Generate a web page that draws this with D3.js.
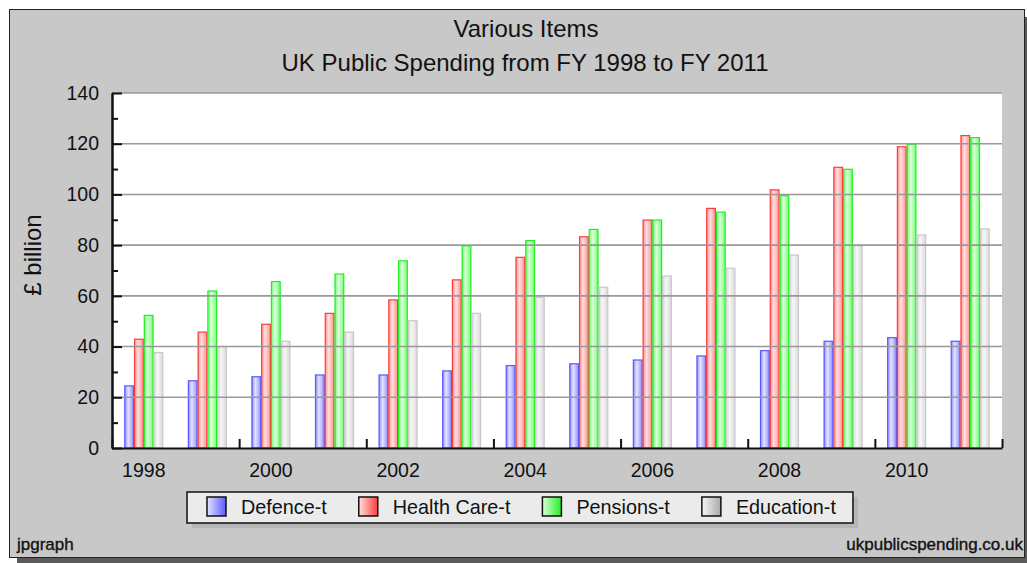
<!DOCTYPE html>
<html>
<head>
<meta charset="utf-8">
<script src="https://cdn.jsdelivr.net/npm/d3@7"></script>
<style>
  body { margin: 0; background: #fff; }
  text { font-family: "Liberation Sans", Arial, sans-serif; }
</style>
</head>
<body>
<div id="chart"></div>
<script>
// Data
var years = [1998, 1999, 2000, 2001, 2002, 2003, 2004, 2005, 2006, 2007, 2008, 2009, 2010, 2011];
var seriesNames = ["Defence-t", "Health Care-t", "Pensions-t", "Education-t"];
var defence   = [24.5, 26.5, 28.1, 28.8, 28.8, 30.4, 32.5, 33.2, 34.7, 36.3, 38.4, 42.1, 43.5, 42.1];
var health    = [42.9, 45.7, 48.8, 53.1, 58.4, 66.3, 75.2, 83.3, 89.9, 94.5, 101.8, 110.7, 118.8, 123.2];
var pensions  = [52.3, 61.9, 65.6, 68.6, 73.8, 79.7, 81.8, 86.2, 89.9, 93.0, 99.5, 109.9, 119.8, 122.4];
var education = [37.6, 40.0, 42.1, 45.7, 50.2, 53.1, 59.4, 63.4, 67.8, 70.9, 76.1, 79.8, 84.0, 86.4];
var yTicks = [0, 20, 40, 60, 80, 100, 120, 140];
var yMinorTicks = [10, 30, 50, 70, 90, 110, 130];
var xLabelYears = [1998, 2000, 2002, 2004, 2006, 2008, 2010];

var allSeries = [defence, health, pensions, education];
var strokes = ["#5a5aff", "#ff3c3c", "#22ee22", "#c8c8c8"];
var mids    = ["#9090ff", "#ff9090", "#70ff70", "#dadada"];
var lights  = ["#e4e4ff", "#ffe0e0", "#dcffdc", "#f6f6f6"];

// Set up the chart area
var svgWidth = 1027;
var svgHeight = 563;
var margin = { top: 93, left: 112 };
var width = 890;
var height = 355;

var svg = d3.select("#chart")
  .append("svg")
  .attr("width", svgWidth)
  .attr("height", svgHeight);

var defs = svg.append("defs");
strokes.forEach(function(c, i) {
  var g = defs.append("linearGradient").attr("id", "bar" + i)
    .attr("x1", "0").attr("x2", "1").attr("y1", "0").attr("y2", "0");
  g.append("stop").attr("offset", "0").attr("stop-color", mids[i]);
  g.append("stop").attr("offset", "0.4").attr("stop-color", lights[i]);
  g.append("stop").attr("offset", "1").attr("stop-color", mids[i]);
  var m = defs.append("linearGradient").attr("id", "mark" + i)
    .attr("x1", "0").attr("x2", "1").attr("y1", "0").attr("y2", "0");
  m.append("stop").attr("offset", "0").attr("stop-color", lights[i]);
  m.append("stop").attr("offset", "1").attr("stop-color", i == 3 ? "#a8a8a8" : strokes[i]);
});

// Frame with shadow
svg.append("rect").attr("x", 17).attr("y", 17).attr("width", 1015).attr("height", 548).attr("fill", "#5a5a5a");
svg.append("rect").attr("x", 9.5).attr("y", 9.5).attr("width", 1015).attr("height", 548)
  .attr("fill", "#c8c8c8").attr("stroke", "#222").attr("stroke-width", 1);

// Titles
svg.append("text").attr("x", 526).attr("y", 37).attr("text-anchor", "middle")
  .style("font-size", "24px").attr("fill", "#111").text("Various Items");
svg.append("text").attr("x", 525).attr("y", 71).attr("text-anchor", "middle")
  .style("font-size", "24px").attr("fill", "#111").text("UK Public Spending from FY 1998 to FY 2011");

var chartGroup = svg.append("g")
  .attr("transform", `translate(${margin.left}, ${margin.top})`);

chartGroup.append("rect").attr("width", width).attr("height", height).attr("fill", "#fff");

// Scales
var x0 = d3.scaleBand().domain(years).range([0, width]);
var x1 = d3.scaleBand().domain(d3.range(4)).range([0, x0.bandwidth()]).paddingOuter(1.26);
var xIdx = d3.scaleLinear().domain([0, years.length]).range([0, width]);
var yLinearScale = d3.scaleLinear().domain([0, 140]).range([height, 0]);

// Bars
allSeries.forEach(function(vals, i) {
  chartGroup.selectAll(".bar" + i)
    .data(vals)
    .enter()
    .append("rect")
    .attr("x", (d, j) => x0(years[j]) + x1(i) + 0.5)
    .attr("y", d => yLinearScale(d))
    .attr("width", x1.bandwidth() - 1)
    .attr("height", d => height - yLinearScale(d))
    .attr("fill", "url(#bar" + i + ")")
    .attr("stroke", strokes[i])
    .attr("stroke-width", 1.2);
});

// Grid lines (drawn in front of bars)
chartGroup.selectAll(".grid")
  .data(yTicks.slice(1))
  .enter()
  .append("line")
  .attr("x1", 0).attr("x2", width)
  .attr("y1", d => yLinearScale(d)).attr("y2", d => yLinearScale(d))
  .attr("stroke", "#999").attr("stroke-width", 1.6);

// Axes
var leftAxis = d3.axisLeft(yLinearScale).tickValues(yTicks).tickSizeInner(-10).tickSizeOuter(0).tickPadding(13);
var minorAxis = d3.axisLeft(yLinearScale).tickValues(yMinorTicks).tickSizeInner(-6).tickSizeOuter(0).tickFormat("");
var bottomTicks = d3.axisBottom(xIdx).tickValues(d3.range(0, years.length + 1, 2)).tickSizeInner(-9).tickSizeOuter(0).tickFormat("");
var bottomLabels = d3.axisBottom(x0).tickValues(xLabelYears).tickSize(0).tickPadding(15);

chartGroup.append("g").call(leftAxis);
chartGroup.append("g").call(minorAxis);
chartGroup.append("g").attr("transform", `translate(0, ${height})`).call(bottomTicks);
var lx = chartGroup.append("g").attr("transform", `translate(0, ${height})`).call(bottomLabels);
lx.select(".domain").remove();

chartGroup.selectAll(".domain").attr("stroke", "#111").attr("stroke-width", 2);
chartGroup.selectAll(".tick line").attr("stroke", "#111").attr("stroke-width", 2);
chartGroup.selectAll(".tick text")
  .style("font-family", '"Liberation Sans", Arial, sans-serif')
  .style("font-size", "19.5px").attr("fill", "#111");

// Y axis label
svg.append("text")
  .attr("transform", "translate(41, 255) rotate(-90)")
  .attr("text-anchor", "middle")
  .style("font-size", "24px").attr("fill", "#111")
  .text("£ billion");

// Legend
var legend = svg.append("g");
var legShadow = legend.append("rect").attr("fill", "#b6b6b6");
var legBox = legend.append("rect").attr("fill", "#ebebeb").attr("stroke", "#111").attr("stroke-width", 1.5);
var lx0 = 187, ly0 = 492, lh = 31;
var cur = lx0 + 20;
seriesNames.forEach(function(name, i) {
  legend.append("rect")
    .attr("x", cur).attr("y", ly0 + 5).attr("width", 19).attr("height", 19)
    .attr("fill", "url(#mark" + i + ")").attr("stroke", "#111").attr("stroke-width", 1.5);
  var t = legend.append("text").attr("x", cur + 34).attr("y", ly0 + 22)
    .style("font-size", "19.8px").attr("fill", "#111").text(name);
  cur = cur + 34 + t.node().getComputedTextLength() + (i < 3 ? 32 : 17);
});
legBox.attr("x", lx0).attr("y", ly0).attr("width", cur - lx0).attr("height", lh);
legShadow.attr("x", lx0 + 5).attr("y", ly0 + 5).attr("width", cur - lx0).attr("height", lh);

// Footers
svg.append("text").attr("x", 17).attr("y", 550)
  .style("font-size", "17px").attr("fill", "#111")
  .attr("stroke", "#111").attr("stroke-width", 0.35).text("jpgraph");
svg.append("text").attr("x", 1023).attr("y", 550).attr("text-anchor", "end")
  .style("font-size", "17px").attr("fill", "#111")
  .attr("stroke", "#111").attr("stroke-width", 0.35).text("ukpublicspending.co.uk");
</script>
</body>
</html>
